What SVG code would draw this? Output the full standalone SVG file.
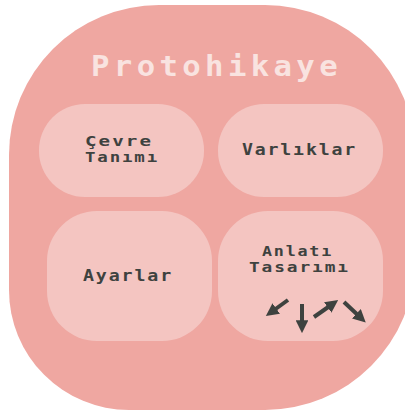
<svg xmlns="http://www.w3.org/2000/svg" width="405" height="411" viewBox="0 0 405 411">
  <style>
    .card { fill: #f4c5c1; }
    .label { font-family: "DejaVu Sans Mono", "Liberation Mono", monospace; font-weight: bold; font-size: 15px; letter-spacing: 1.5px; fill: #3e423f; }
    .small { font-size: 14px; }
    .title { font-family: "DejaVu Sans Mono", "Liberation Mono", monospace; font-weight: bold; font-size: 28px; letter-spacing: 4px; fill: #f9e3e0; }
    .arrow { stroke: #3e423f; stroke-width: 4; fill: none; marker-end: url(#head); }
  </style>
  <defs>
    <marker id="head" viewBox="0 0 10 10" refX="6" refY="5" markerWidth="3.2" markerHeight="3.2" orient="auto" markerUnits="strokeWidth">
      <path d="M0,0 L10,5 L0,10 Z" fill="#3e423f"/>
    </marker>
  </defs>
  <rect width="405" height="411" fill="#ffffff"/>

  <!-- outer container -->
  <g id="protohikaye">
    <path d="M159,5 H265 A150,150 0 0 1 415,155 V260 A150,150 0 0 1 265,410 H129 A120,120 0 0 1 9,290 V155 A150,150 0 0 1 159,5 Z" fill="#efa7a1"/>
    <text class="title" x="91" y="76" textLength="251" lengthAdjust="spacingAndGlyphs">Protohikaye</text>
  </g>

  <g id="cevre-tanimi">
    <rect class="card" x="39" y="104" width="165" height="93" rx="46"/>
    <text class="label small" x="85" y="146" textLength="68" lengthAdjust="spacingAndGlyphs">Çevre</text>
    <text class="label small" x="85" y="162" textLength="74" lengthAdjust="spacingAndGlyphs">Tanımı</text>
  </g>

  <g id="varliklar">
    <rect class="card" x="218" y="104" width="165" height="93" rx="46"/>
    <text class="label" x="242" y="155" textLength="115" lengthAdjust="spacingAndGlyphs">Varlıklar</text>
  </g>

  <g id="ayarlar">
    <rect class="card" x="47" y="211" width="165" height="130" rx="50"/>
    <text class="label" x="83" y="281" textLength="90" lengthAdjust="spacingAndGlyphs">Ayarlar</text>
  </g>

  <g id="anlati-tasarimi">
    <rect class="card" x="218" y="211" width="165" height="130" rx="50"/>
    <text class="label small" x="262" y="256" textLength="71" lengthAdjust="spacingAndGlyphs">Anlatı</text>
    <text class="label small" x="249" y="272" textLength="101" lengthAdjust="spacingAndGlyphs">Tasarımı</text>
  </g>

  <!-- branching arrows -->
  <g id="connectors">
    <line class="arrow" x1="288" y1="300" x2="270" y2="313"/>
    <line class="arrow" x1="302" y1="304" x2="302" y2="328"/>
    <line class="arrow" x1="314" y1="317" x2="334" y2="303"/>
    <line class="arrow" x1="344" y1="302" x2="362" y2="319"/>
  </g>
</svg>
